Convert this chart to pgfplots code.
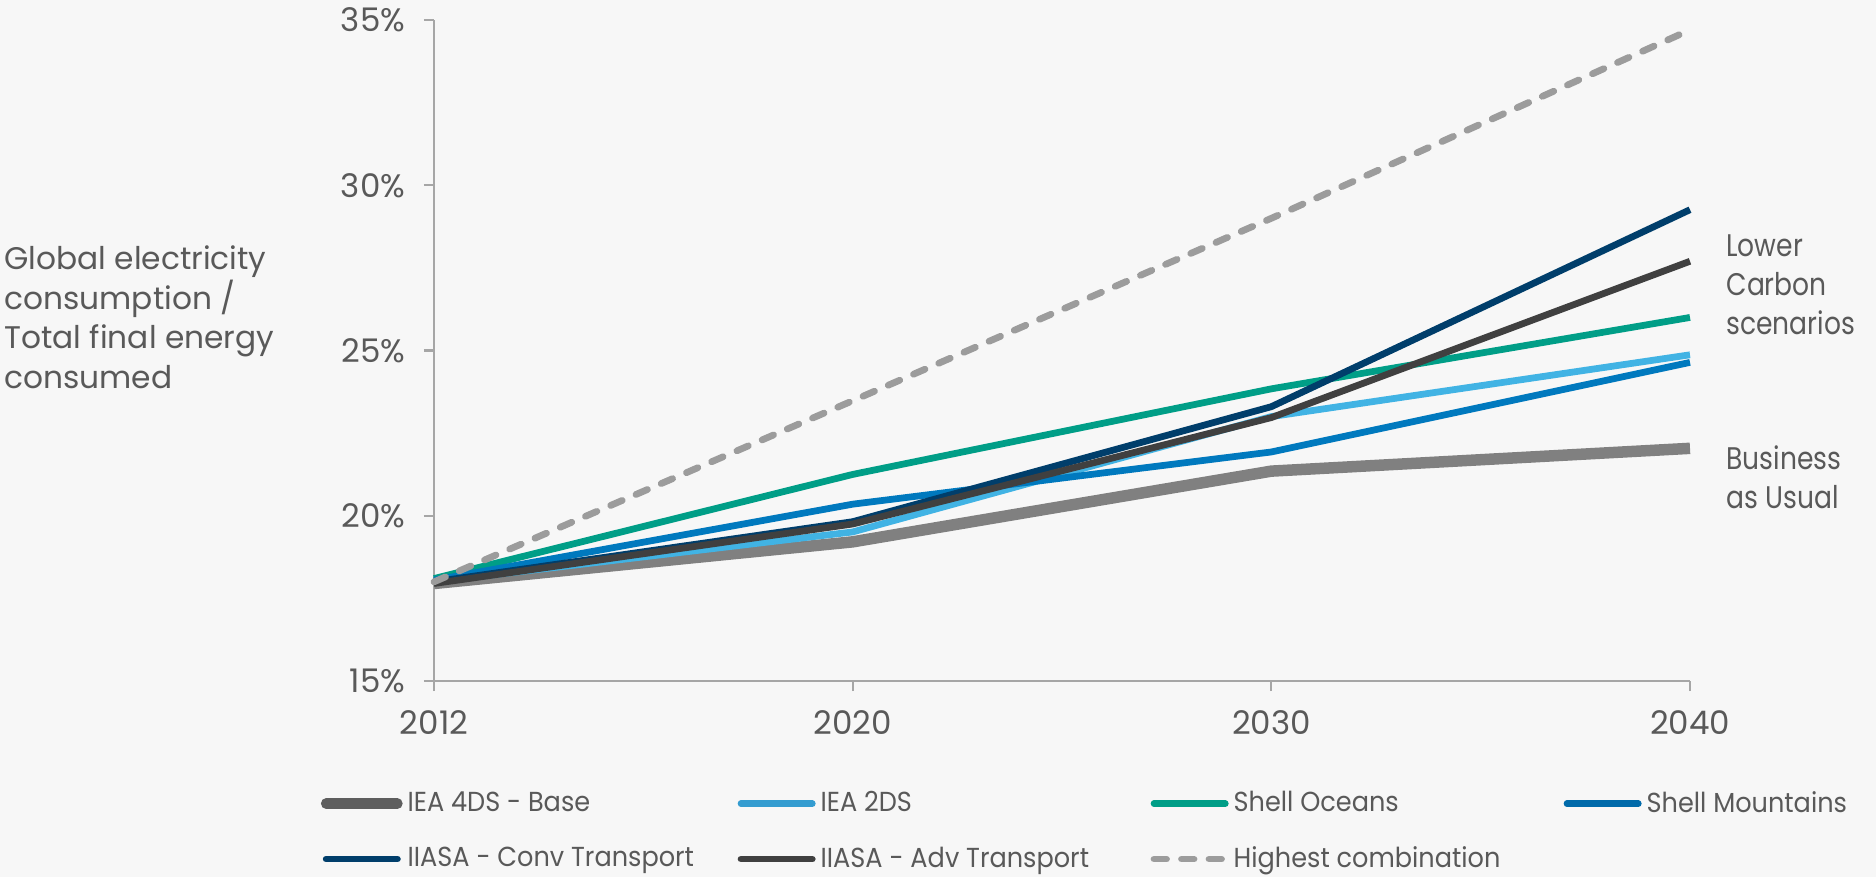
\documentclass[border=0pt]{standalone}
\usepackage{fontspec}
\setmainfont{Poppins}
\newfontfamily\condfont[FakeStretch=0.85]{Poppins}
\newfontfamily\legfont[FakeStretch=0.93]{Poppins}
\usepackage{pgfplots}
\pgfplotsset{compat=1.18}
\definecolor{bgc}{HTML}{F7F7F7}
\definecolor{txt}{HTML}{595959}
\definecolor{axc}{HTML}{A6A6A6}
\definecolor{cfour}{HTML}{808080}
\definecolor{cfourleg}{HTML}{5E5E5E}
\definecolor{ctwo}{HTML}{41B3E4}
\definecolor{ctwoleg}{HTML}{349CD0}
\definecolor{coce}{HTML}{009E87}
\definecolor{cmou}{HTML}{0079BE}
\definecolor{cmouleg}{HTML}{006AAA}
\definecolor{cconv}{HTML}{003E6B}
\definecolor{cadv}{HTML}{404040}
\definecolor{chigh}{HTML}{9C9C9C}
\begin{document}
\begin{tikzpicture}
\path[use as bounding box, fill=bgc] (-173.6pt,-78.4pt) rectangle (576.8pt,272.4pt);
\begin{axis}[
  at={(0pt,0pt)}, anchor=south west,
  scale only axis, width=502.4pt, height=264.4pt,
  xmin=0, xmax=3, ymin=15, ymax=35,
  axis x line*=bottom, axis y line*=left,
  axis line style={draw=axc, line width=0.9pt},
  tick style={draw=axc, line width=0.9pt},
  major tick length=4pt, tick align=outside,
  xtick={0,1,2,3}, xticklabels={2012,2020,2030,2040},
  ytick={15,20,25,30,35}, yticklabels={15\%,20\%,25\%,30\%,35\%},
  ticklabel style={font=\fontsize{13}{15}\selectfont, text=txt},
  yticklabel style={anchor=east, xshift=-4pt},
  xticklabel style={anchor=center, yshift=-12.5pt},
  legend columns=4,
  legend cell align=left,
  legend image code/.code={\draw[#1, line cap=round] (0pt,0pt) -- (28.5pt,0pt);},
  legend style={at={(rel axis cs:-0.0964,-0.151)}, anchor=north west, draw=none, fill=none,
    font=\legfont\fontsize{11}{12.5}\selectfont, text=txt, row sep=8.3pt, column sep=0pt,
    cells={inner sep=1pt}},
  clip=false,
]
\addplot[cfour, line width=4.6pt, forget plot] coordinates {(0,17.95) (1,19.21) (2,21.35) (3,22.04)};
\addlegendimage{cfourleg, line width=4.2pt}
\addlegendentry{\makebox[130pt][l]{IEA 4DS - Base}}
\addplot[ctwo, line width=2.7pt, forget plot] coordinates {(0,18.0) (1,19.51) (2,23.0) (3,24.87)};
\addlegendimage{ctwoleg, line width=2.7pt}
\addlegendentry{\makebox[130pt][l]{IEA 2DS}}
\addplot[coce, line width=2.7pt] coordinates {(0,18.1) (1,21.25) (2,23.84) (3,26.0)};
\addlegendentry{\makebox[130pt][l]{Shell Oceans}}
\addplot[cmou, line width=2.7pt, forget plot] coordinates {(0,18.05) (1,20.35) (2,21.93) (3,24.64)};
\addlegendimage{cmouleg, line width=2.7pt}
\addlegendentry{\makebox[130pt][l]{Shell Mountains}}
\addplot[cconv, line width=2.7pt] coordinates {(0,18.0) (1,19.82) (2,23.3) (3,29.26)};
\addlegendentry{\makebox[130pt][l]{IIASA - Conv Transport}}
\addplot[cadv, line width=2.7pt] coordinates {(0,17.95) (1,19.75) (2,22.97) (3,27.7)};
\addlegendentry{\makebox[130pt][l]{IIASA - Adv Transport}}
\addplot[chigh, line width=2.7pt, dash pattern=on 5pt off 6pt, line cap=round] coordinates {(0,18.0) (1,23.48) (2,29.0) (3,34.7)};
\addlegendentry{\makebox[130pt][l]{Highest combination}}
\end{axis}
\node[anchor=west, align=left, text=txt, font=\fontsize{12.5}{15.8}\selectfont, inner sep=0pt]
  at (-172pt,145.4pt) {Global electricity\\consumption /\\Total final energy\\consumed};
\node[anchor=west, align=left, text=txt, font=\condfont\fontsize{12.5}{15.6}\selectfont, inner sep=0pt]
  at (516.8pt,158.4pt) {Lower\\Carbon\\scenarios};
\node[anchor=west, align=left, text=txt, font=\condfont\fontsize{12.5}{15.6}\selectfont, inner sep=0pt]
  at (516.8pt,81.4pt) {Business\\as Usual};
\end{tikzpicture}
\end{document}
